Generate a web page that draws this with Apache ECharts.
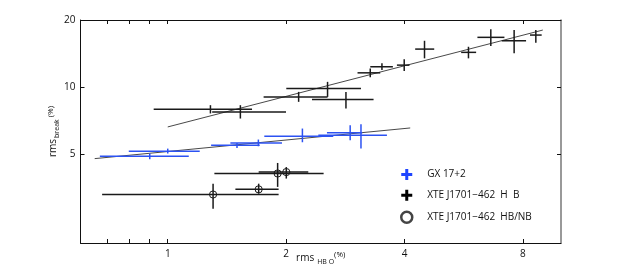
<!DOCTYPE html>
<html><head><meta charset="utf-8">
<script src="https://cdn.jsdelivr.net/npm/echarts@6/dist/echarts.min.js"></script>
<style>html,body{margin:0;padding:0;background:#fff}#c{width:620px;height:274px}</style>
</head><body><div id="c"></div>
<script>
// tick values
const xTickLabels = [1, 2, 4, 8];
const xMinorTicks = [0.7, 0.8, 0.9];
const yTickLabels = [5, 10, 20];

// GX 17+2 (blue)
const gxX   = [0.90, 1.00, 1.50, 1.70, 2.20, 2.91, 3.10];
const gxXlo = [0.672, 0.796, 1.289, 1.443, 1.760, 2.54, 2.415];
const gxXhi = [1.131, 1.206, 1.713, 1.952, 2.636, 3.123, 3.609];
const gxY   = [4.90, 5.16, 5.49, 5.62, 6.02, 6.24, 6.09];
const gxYlo = [4.75, 5.04, 5.34, 5.43, 5.66, 5.78, 5.30];
const gxYhi = [5.04, 5.30, 5.62, 5.82, 6.52, 6.75, 6.82];

// XTE J1701-462 HB
const hbX   = [1.284, 1.530, 2.152, 2.549, 2.839, 3.273, 3.505, 3.993, 4.497, 5.817, 6.63, 7.60, 8.63];
const hbXlo = [0.921, 1.297, 1.753, 2.002, 2.327, 3.038, 3.273, 3.826, 4.258, 5.573, 6.13, 7.07, 8.34];
const hbXhi = [1.638, 1.999, 2.549, 3.10, 3.337, 3.47, 3.737, 4.118, 4.76, 6.084, 7.18, 8.15, 8.93];
const hbY   = [7.96, 7.74, 9.04, 9.87, 8.80, 11.59, 12.34, 12.55, 14.81, 14.32, 16.72, 16.14, 17.12];
const hbYlo = [7.62, 7.23, 8.59, 9.04, 8.02, 11.06, 11.92, 11.80, 13.46, 13.46, 15.28, 14.17, 15.81];
const hbYhi = [8.30, 8.30, 9.52, 10.56, 9.52, 12.13, 12.78, 13.32, 16.14, 15.17, 18.17, 18.03, 18.03];

// XTE J1701-462 HB/NB
const nbX   = [1.304, 1.703, 1.903, 2.002];
const nbXlo = [0.681, 1.486, 1.314, 1.703];
const nbXhi = [1.914, 1.914, 2.491, 2.277];
const nbY   = [3.30, 3.48, 4.10, 4.16];
const nbYlo = [2.85, 3.33, 3.57, 3.89];
const nbYhi = [3.69, 3.69, 4.57, 4.38];

// fit lines
const gxFitX = [0.652, 4.136];
const gxFitY = [4.78, 6.56];
const hbFitX = [1.0, 8.99];
const hbFitY = [6.63, 18.03];

const names = ['GX 17+2', 'XTE J1701\u2212462  H  B', 'XTE J1701\u2212462  HB/NB'];
const BLUE = '#2c52f2', BLACK = '#1a1a1a';
const FONT = 'Open Sans';

function build(X, Y, XL, XH, YL, YH) {
  return X.map((x, i) => [x, Y[i], XL[i], XH[i], YL[i], YH[i]]);
}
function errRender(color, lw, circle) {
  return function (params, api) {
    const c = api.coord([api.value(0), api.value(1)]);
    const l = api.coord([api.value(2), api.value(1)]);
    const r = api.coord([api.value(3), api.value(1)]);
    const b = api.coord([api.value(0), api.value(4)]);
    const t = api.coord([api.value(0), api.value(5)]);
    const ch = [
      { type: 'line', shape: { x1: l[0], y1: c[1], x2: r[0], y2: c[1] }, style: { stroke: color, lineWidth: lw } },
      { type: 'line', shape: { x1: c[0], y1: b[1], x2: c[0], y2: t[1] }, style: { stroke: color, lineWidth: lw } }
    ];
    if (circle) ch.push({ type: 'circle', shape: { cx: c[0], cy: c[1], r: 3.6 }, style: { stroke: color, fill: 'none', lineWidth: 1 } });
    return { type: 'group', children: ch };
  };
}

const xBase = {
  type: 'log', logBase: 2, min: 0.6, max: 10,
  axisLine: { onZero: false, lineStyle: { color: '#111', width: 1 } },
  axisTick: { inside: true, length: 4, customValues: xMinorTicks.concat(xTickLabels), lineStyle: { color: '#111' } },
  axisLabel: { customValues: xTickLabels, color: '#111', fontSize: 10, fontFamily: FONT, margin: 6, formatter: v => String(Math.round(v)) },
  splitLine: { show: false }, minorTick: { show: false }
};
const yBase = {
  type: 'log', logBase: 2, min: 2, max: 20,
  axisLine: { onZero: false, lineStyle: { color: '#111', width: 1 } },
  axisTick: { inside: true, length: 4, customValues: yTickLabels, lineStyle: { color: '#111' } },
  axisLabel: { customValues: yTickLabels, color: '#111', fontSize: 10, fontFamily: FONT, margin: 5, formatter: v => String(Math.round(v)) },
  splitLine: { show: false }, minorTick: { show: false }
};

const chart = echarts.init(document.getElementById('c'), null, { renderer: 'canvas' });
chart.setOption({
  animation: false,
  backgroundColor: '#fff',
  grid: { left: 80.5, right: 59, top: 20, bottom: 31, containLabel: false, outerBoundsMode: 'none' },
  xAxis: [
    Object.assign({}, xBase, {
      position: 'bottom',
      name: '{a|rms}{b|HB O}{c|(%)}', nameLocation: 'middle', nameGap: 8, nameMoveOverlap: false,
      nameTextStyle: { color: '#111', fontFamily: FONT, rich: {
        a: { fontSize: 10, fontFamily: FONT, color: '#111' },
        b: { fontSize: 7, fontFamily: FONT, color: '#111', padding: [7, 0, 0, 3] },
        c: { fontSize: 8, fontFamily: FONT, color: '#111', padding: [0, 0, 6, 0] } } }
    }),
    Object.assign({}, xBase, { position: 'top', axisLabel: Object.assign({}, xBase.axisLabel, { show: false }) })
  ],
  yAxis: [
    Object.assign({}, yBase, {
      position: 'left',
      name: '{a|rms}{b|break}{c|(%)}', nameLocation: 'middle', nameGap: 20, nameRotate: 90, nameMoveOverlap: false,
      nameTextStyle: { color: '#111', fontFamily: FONT, rich: {
        a: { fontSize: 10, fontFamily: FONT, color: '#111' },
        b: { fontSize: 7, fontFamily: FONT, color: '#111', padding: [7, 0, 0, 1] },
        c: { fontSize: 8, fontFamily: FONT, color: '#111', padding: [0, 0, 6, 2] } } }
    }),
    Object.assign({}, yBase, { position: 'right', axisLine: { onZero: false, lineStyle: { color: '#777', width: 1.5 } }, axisLabel: Object.assign({}, yBase.axisLabel, { show: false }) })
  ],
  legend: {
    orient: 'vertical', left: 395, top: 164, itemWidth: 11, itemHeight: 11, itemGap: 9.7,
    textStyle: { fontSize: 10, fontFamily: FONT, color: '#111', padding: [0, 0, 0, 10] },
    data: [
      { name: names[0], icon: 'path://M4,0H7V4H11V7H7V11H4V7H0V4H4Z', itemStyle: { color: '#1f45ff' } },
      { name: names[1], icon: 'path://M4,0H7V4H11V7H7V11H4V7H0V4H4Z', itemStyle: { color: '#000' } },
      { name: names[2], icon: 'circle', itemStyle: { color: 'rgba(0,0,0,0)', borderColor: '#444', borderWidth: 2.5 } }
    ]
  },
  series: [
    { type: 'line', data: gxFitX.map((x, i) => [x, gxFitY[i]]), symbol: 'none', lineStyle: { color: '#333', width: 0.9 }, silent: true, z: 1 },
    { type: 'line', data: hbFitX.map((x, i) => [x, hbFitY[i]]), symbol: 'none', lineStyle: { color: '#333', width: 0.9 }, silent: true, z: 1 },
    { name: names[0], type: 'custom', renderItem: errRender(BLUE, 1.5, false), itemStyle: { color: BLUE },
      encode: { x: [0, 2, 3], y: [1, 4, 5] }, data: build(gxX, gxY, gxXlo, gxXhi, gxYlo, gxYhi), z: 2 },
    { name: names[1], type: 'custom', renderItem: errRender(BLACK, 1.5, false), itemStyle: { color: BLACK },
      encode: { x: [0, 2, 3], y: [1, 4, 5] }, data: build(hbX, hbY, hbXlo, hbXhi, hbYlo, hbYhi), z: 2 },
    { name: names[2], type: 'custom', renderItem: errRender(BLACK, 1.5, true), itemStyle: { color: BLACK },
      encode: { x: [0, 2, 3], y: [1, 4, 5] }, data: build(nbX, nbY, nbXlo, nbXhi, nbYlo, nbYhi), z: 2 }
  ]
});
</script></body></html>
